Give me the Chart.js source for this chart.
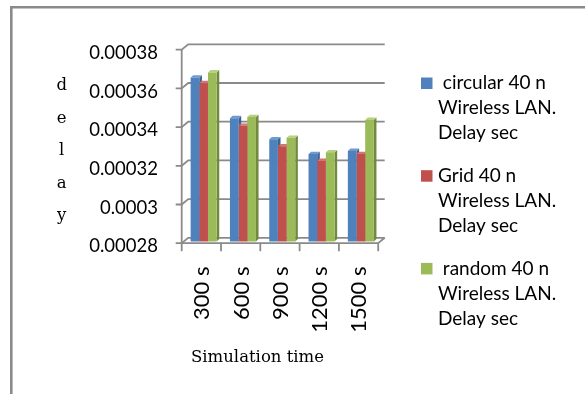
<!DOCTYPE html>
<html>
<head>
<meta charset="utf-8">
<script src="https://cdn.jsdelivr.net/npm/chart.js@4/dist/chart.umd.min.js"></script>
<style>
  html, body { margin: 0; padding: 0; background: #fff; }
  #wrap { width: 585px; height: 394px; position: relative; }
</style>
</head>
<body>
<div id="wrap"><canvas id="c" width="585" height="394"></canvas></div>
<script>
// Simulation times on the category axis
const categories = ['300 s', '600 s', '900 s', '1200 s', '1500 s'];

// Wireless LAN delay (seconds) per topology, 40 nodes
const circularDelay = [0.0003647, 0.0003437, 0.0003328, 0.0003252, 0.0003268];
const gridDelay     = [0.0003618, 0.0003398, 0.0003292, 0.0003216, 0.0003252];
const randomDelay   = [0.0003674, 0.0003443, 0.0003336, 0.0003261, 0.0003428];

// Legend entries, one line per row
const circularName = [' circular 40 n', 'Wireless LAN.', 'Delay sec'];
const gridName     = ['Grid 40 n', 'Wireless LAN.', 'Delay sec'];
const randomName   = [' random 40 n', 'Wireless LAN.', 'Delay sec'];

// Value axis ticks
const yTickValues = [0.00028, 0.0003, 0.00032, 0.00034, 0.00036, 0.00038];
const yTickLabels = ['0.00028', '0.0003', '0.00032', '0.00034', '0.00036', '0.00038'];

const xTitle = 'Simulation time';
const yTitleLetters = ['d', 'e', 'l', 'a', 'y'];

const seriesColors = [
  { face: '#4F81BD', top: '#7099D0', side: '#3A6494' },
  { face: '#C0504D', top: '#D27673', side: '#8E3A38' },
  { face: '#9BBB59', top: '#B5D07F', side: '#728A40' }
];
const seriesNames = [circularName, gridName, randomName];

const LEGEND_FONT = '19px Lato';
const TITLE_FONT = '16.5px "DejaVu Serif"';

// Pseudo-3D frame: back wall grid, floor, front axis, bar tops and sides
const FRONT_DX = -2.3, FRONT_DY = 1.7;
const BACK_DX = 4.2, BACK_DY = -3.7;
const DEPTH_X = 2.6, DEPTH_Y = 2.4;

const wall3d = {
  id: 'wall3d',
  beforeDraw(chart) {
    const ctx = chart.ctx;
    ctx.save();
    ctx.fillStyle = '#fff';
    ctx.fillRect(0, 0, chart.width, chart.height);
    ctx.strokeStyle = '#8a8a8a';
    ctx.lineWidth = 2.6;
    ctx.beginPath();
    ctx.moveTo(11.3, chart.height + 5);
    ctx.lineTo(11.3, 7.3);
    ctx.lineTo(chart.width + 5, 7.3);
    ctx.stroke();
    ctx.restore();
  },
  beforeDatasetsDraw(chart) {
    const ctx = chart.ctx;
    const ca = chart.chartArea;
    const y = chart.scales.y;
    const frontL = ca.left + FRONT_DX, frontR = ca.right + FRONT_DX;
    const backL = ca.left + BACK_DX, backR = ca.right + BACK_DX;
    ctx.save();
    ctx.strokeStyle = '#8a8a8a';
    ctx.lineWidth = 1.8;
    ctx.lineCap = 'butt';
    yTickValues.forEach(v => {
      const p = y.getPixelForValue(v);
      const yb = p + BACK_DY, yf = p + FRONT_DY;
      ctx.beginPath();
      ctx.moveTo(frontL - 6, yf);
      ctx.lineTo(frontL, yf);
      ctx.lineTo(backL, yb);
      ctx.lineTo(backR, yb);
      ctx.stroke();
    });
    const top = y.getPixelForValue(yTickValues[yTickValues.length - 1]) + FRONT_DY;
    const bot = y.getPixelForValue(yTickValues[0]) + FRONT_DY;
    const botBack = y.getPixelForValue(yTickValues[0]) + BACK_DY;
    ctx.beginPath();
    ctx.moveTo(frontL, top);
    ctx.lineTo(frontL, bot);
    ctx.lineTo(frontR, bot);
    ctx.lineTo(backR, botBack);
    ctx.stroke();
    const n = categories.length;
    for (let i = 0; i <= n; i++) {
      const x = frontL + (frontR - frontL) * i / n;
      ctx.beginPath();
      ctx.moveTo(x, bot);
      ctx.lineTo(x, bot + 8);
      ctx.stroke();
    }
    // bar tops and right-hand sides, later hidden by neighbouring bar faces
    chart.data.datasets.forEach((ds, di) => {
      const meta = chart.getDatasetMeta(di);
      const c = seriesColors[di];
      meta.data.forEach(bar => {
        const l = bar.x - bar.width / 2, r = bar.x + bar.width / 2;
        const t = bar.y, b = Math.min(bar.base, ca.bottom);
        ctx.fillStyle = c.side;
        ctx.beginPath();
        ctx.moveTo(r, t);
        ctx.lineTo(r + DEPTH_X, t - DEPTH_Y);
        ctx.lineTo(r + DEPTH_X, b - DEPTH_Y);
        ctx.lineTo(r, b);
        ctx.closePath();
        ctx.fill();
        ctx.fillStyle = c.top;
        ctx.beginPath();
        ctx.moveTo(l, t);
        ctx.lineTo(l + DEPTH_X, t - DEPTH_Y);
        ctx.lineTo(r + DEPTH_X, t - DEPTH_Y);
        ctx.lineTo(r, t);
        ctx.closePath();
        ctx.fill();
      });
    });
    ctx.restore();
  },
  afterDraw(chart) {
    const ctx = chart.ctx;
    ctx.save();
    ctx.fillStyle = '#000';
    ctx.textBaseline = 'middle';
    // legend
    ctx.font = LEGEND_FONT;
    ctx.textAlign = 'left';
    seriesNames.forEach((lines, i) => {
      const y0 = 83 + i * 92.7;
      ctx.fillStyle = seriesColors[i].face;
      ctx.fillRect(421, y0 - 5.5, 11.5, 11.5);
      ctx.fillStyle = '#000';
      lines.forEach((t, k) => ctx.fillText(t, 438, y0 + k * 25));
    });
    // axis titles
    ctx.font = TITLE_FONT;
    ctx.textAlign = 'center';
    yTitleLetters.forEach((ch, i) => ctx.fillText(ch, 61.7, 86 + i * 32.5));
    ctx.fillText(xTitle, 257.5, 358);
    ctx.restore();
  }
};

new Chart(document.getElementById('c'), {
  type: 'bar',
  data: {
    labels: categories,
    datasets: [
      { label: circularName.join(' '), data: circularDelay, backgroundColor: seriesColors[0].face },
      { label: gridName.join(' '),     data: gridDelay,     backgroundColor: seriesColors[1].face },
      { label: randomName.join(' '),   data: randomDelay,   backgroundColor: seriesColors[2].face }
    ]
  },
  options: {
    responsive: false,
    animation: false,
    devicePixelRatio: 1,
    layout: { padding: { left: 0, top: 48, right: 204.5, bottom: 0 } },
    datasets: { bar: { barPercentage: 1, categoryPercentage: 0.662, borderWidth: 0 } },
    plugins: { legend: { display: false }, tooltip: { enabled: false } },
    scales: {
      x: {
        afterFit(s) { s.height = 152.5; },
        grid: { display: false, drawTicks: false },
        border: { display: false },
        ticks: {
          minRotation: 90, maxRotation: 90, autoSkip: false,
          padding: 25, labelOffset: -1.5,
          color: '#000', font: { family: 'Lato', size: 22 }
        }
      },
      y: {
        min: yTickValues[0],
        max: yTickValues[yTickValues.length - 1],
        afterBuildTicks(s) { s.ticks = yTickValues.map(v => ({ value: v })); },
        afterFit(s) { s.width = 184; },
        grid: { display: false, drawTicks: false },
        border: { display: false },
        ticks: {
          padding: 26, labelOffset: 5,
          color: '#000', font: { family: 'Lato', size: 18.5 },
          callback(v) {
            let best = 0;
            yTickValues.forEach((t, i) => {
              if (Math.abs(t - v) < Math.abs(yTickValues[best] - v)) best = i;
            });
            return yTickLabels[best];
          }
        }
      }
    }
  },
  plugins: [wall3d]
});
</script>
</body>
</html>
